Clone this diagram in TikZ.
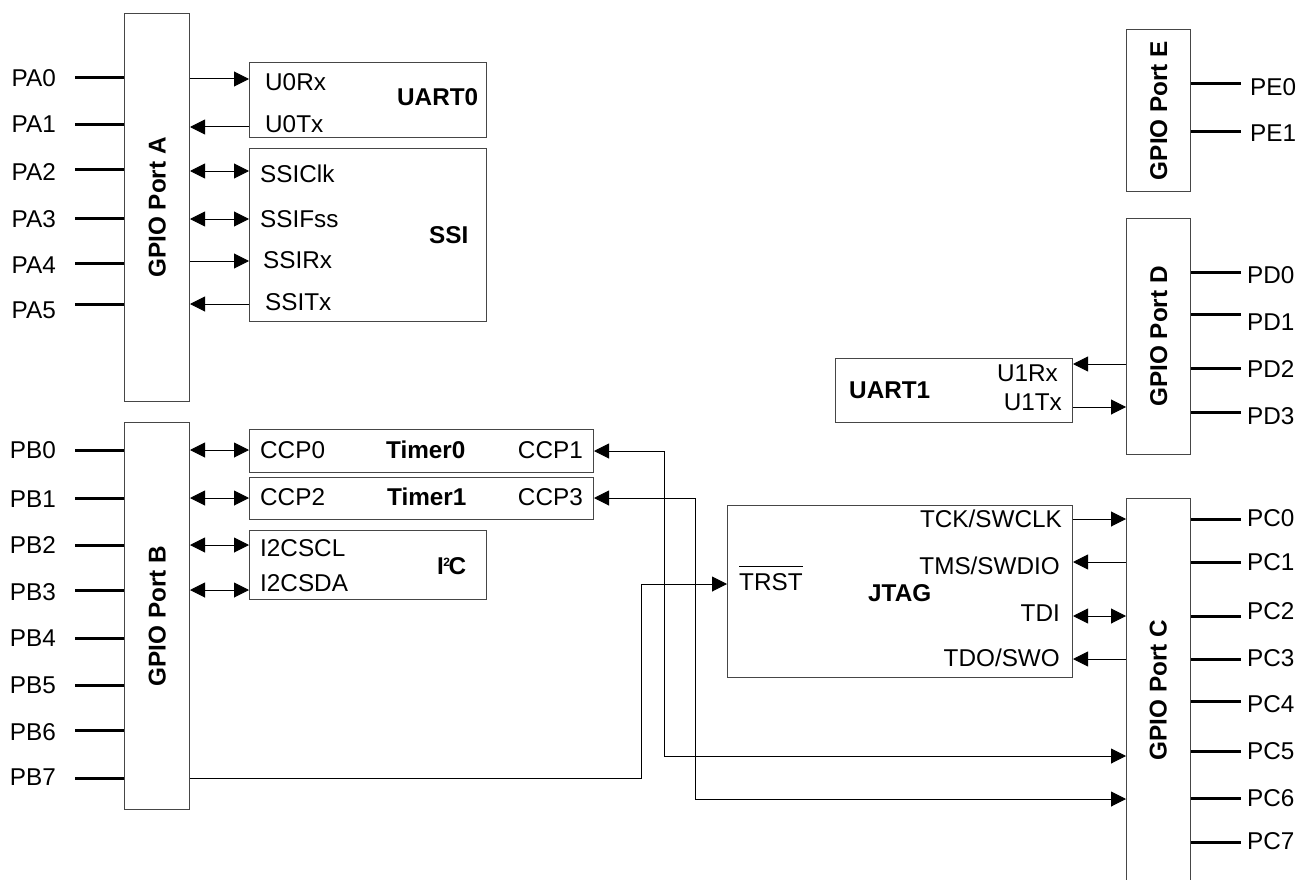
\documentclass[tikz,border=0pt]{standalone}
\usepackage{fontspec}
\setmainfont{Liberation Sans}
\usetikzlibrary{arrows.meta}
\definecolor{boxc}{RGB}{70,70,70}
\newcommand{\fs}{\fontsize{24.3}{29}\selectfont}
\tikzset{
  box/.style={draw=boxc, line width=1pt, inner sep=0pt, anchor=north west, fill=white},
  lbl/.style={inner sep=0pt, text height=17.4pt, text depth=0pt, font=\fs},
  blbl/.style={lbl, font=\fs\bfseries},
  pin/.style={line width=3pt, black},
  tip/.tip={Triangle[length=15pt,width=15pt]},
  arr/.style={line width=1pt, black, -tip},
  rarr/.style={line width=1pt, black, tip-},
  dbl/.style={line width=1pt, black, tip-tip}
}
\begin{document}
\begin{tikzpicture}[x=1pt,y=-1pt]
\useasboundingbox (0,0) rectangle (1306,880);
% ports
\node[box, minimum width=65pt, minimum height=388pt] (pa) at (124,13) {};
\node[box, minimum width=65pt, minimum height=387pt] (pb) at (124,422) {};
\node[box, minimum width=64pt, minimum height=162pt] (pe) at (1126,29) {};
\node[box, minimum width=64pt, minimum height=236pt] (pd) at (1126,218) {};
\node[box, minimum width=64pt, minimum height=384pt] (pc) at (1126,498) {};
\node[blbl, rotate=90] (pat) at (pa.center) {GPIO Port A};
\node[blbl, rotate=90] (pbt) at (pb.center) {GPIO Port B};
\node[blbl, rotate=90] (pet) at (pe.center) {GPIO Port E};
\node[blbl, rotate=90] (pdt) at (pd.center) {GPIO Port D};
\node[blbl, rotate=90] (pct) at (1158,690) {GPIO Port C};
% peripheral boxes
\node[box, minimum width=237pt, minimum height=75pt] (u0) at (249,62) {};
\node[box, minimum width=237pt, minimum height=173pt] (ssi) at (249,148) {};
\node[box, minimum width=344pt, minimum height=43pt] (t0) at (249,429) {};
\node[box, minimum width=344pt, minimum height=42pt] (t1) at (249,477) {};
\node[box, minimum width=237pt, minimum height=69pt] (i2c) at (249,530) {};
\node[box, minimum width=345pt, minimum height=172pt] (jtag) at (727,505) {};
\node[box, minimum width=237pt, minimum height=64pt] (u1) at (835,358) {};
% pins port A
\foreach \n/\py/\ly in {0/78/77.5,1/125/124,2/169/171.5,3/218/218.5,4/263/265,5/304/310}{
  \draw[pin] (pa.west |- 0,\py) -- ++(-49,0);
  \node[lbl, anchor=east] (pa\n) at (56,\ly) {PA\n};
}
% pins port B
\foreach \n/\py/\ly in {0/450/450,1/498/499,2/545/545,3/590/592,4/638/638,5/685/685,6/730/732,7/778/777}{
  \draw[pin] (pb.west |- 0,\py) -- ++(-49,0);
  \node[lbl, anchor=east] (pb\n) at (56,\ly) {PB\n};
}
% pins port C
\foreach \n/\py/\ly in {0/519/518,1/562/562,2/616/611,3/659/658,4/701/704,5/751/751,6/798/798,7/842/841}{
  \draw[pin] (pc.east |- 0,\py) -- ++(50,0);
  \node[lbl, anchor=west] (pc\n) at (1247,\ly) {PC\n};
}
% pins port D
\foreach \n/\py/\ly in {0/272/275,1/314/322,2/368/369,3/412/416}{
  \draw[pin] (pd.east |- 0,\py) -- ++(50,0);
  \node[lbl, anchor=west] (pd\n) at (1247,\ly) {PD\n};
}
% pins port E
\foreach \n/\py/\ly in {0/84/87,1/132/133}{
  \draw[pin] (pe.east |- 0,\py) -- ++(50,0);
  \node[lbl, anchor=west] (pe\n) at (1250,\ly) {PE\n};
}
% labels UART0 / SSI
\node[lbl, anchor=west] (u0rx) at (265,82) {U0Rx};
\node[lbl, anchor=west] (u0tx) at (265,124) {U0Tx};
\node[blbl, anchor=west] (u0t) at (397,97) {UART0};
\node[lbl, anchor=west] (sclk) at (260,174) {SSIClk};
\node[lbl, anchor=west] (sfss) at (260,219) {SSIFss};
\node[lbl, anchor=west] (srx) at (263,260) {SSIRx};
\node[lbl, anchor=west] (stx) at (265,302) {SSITx};
\node[blbl, anchor=west] (ssit) at (429,235) {SSI};
% timers / I2C
\node[lbl, anchor=west] (ccp0) at (260,450) {CCP0};
\node[blbl, anchor=west] (t0t) at (386,450) {Timer0};
\node[lbl, anchor=east] (ccp1) at (583,450) {CCP1};
\node[lbl, anchor=west] (ccp2) at (260,497) {CCP2};
\node[blbl, anchor=west] (t1t) at (387,497) {Timer1};
\node[lbl, anchor=east] (ccp3) at (583,497) {CCP3};
\node[lbl, anchor=west] (scl) at (260,548) {I2CSCL};
\node[lbl, anchor=west] (sda) at (260,583) {I2CSDA};
\node[blbl, anchor=west] (i2ct) at (437,566) {I\kern-0.5pt\raisebox{8pt}{\fontsize{12}{13}\selectfont 2}\kern-1.5pt C};
% JTAG
\node[lbl, anchor=west] (trst) at (739,582) {\makebox[0pt][l]{\rule[23.5pt]{64pt}{1pt}}TRST};
\node[blbl, anchor=west] (jt) at (868,593) {JTAG};
\node[lbl, anchor=east] (tck) at (1062,519) {TCK/SWCLK};
\node[lbl, anchor=east] (tms) at (1060,566) {TMS/SWDIO};
\node[lbl, anchor=east] (tdi) at (1060,613) {TDI};
\node[lbl, anchor=east] (tdo) at (1060,658) {TDO/SWO};
% UART1
\node[blbl, anchor=west] (u1t) at (849,390) {UART1};
\node[lbl, anchor=east] (u1rx) at (1058,373) {U1Rx};
\node[lbl, anchor=east] (u1tx) at (1062,402) {U1Tx};
% connectors port A
\draw[arr] (pa.east |- 0,79) -- (u0.west |- 0,79);
\draw[rarr] (pa.east |- 0,127) -- (u0.west |- 0,127);
\draw[dbl] (pa.east |- 0,171) -- (ssi.west |- 0,171);
\draw[dbl] (pa.east |- 0,219) -- (ssi.west |- 0,219);
\draw[arr] (pa.east |- 0,261) -- (ssi.west |- 0,261);
\draw[rarr] (pa.east |- 0,304) -- (ssi.west |- 0,304);
% connectors port B
\draw[dbl] (pb.east |- 0,450) -- (t0.west |- 0,450);
\draw[dbl] (pb.east |- 0,498) -- (t1.west |- 0,498);
\draw[dbl] (pb.east |- 0,545) -- (i2c.west |- 0,545);
\draw[dbl] (pb.east |- 0,590) -- (i2c.west |- 0,590);
\draw[arr] (pb.east |- 0,778) -- (641,778) -- (641,584) -- (jtag.west |- 0,584);
% timers to port C
\draw[dbl] (t0.east |- 0,451) -- (664,451) -- (664,756) -- (pc.west |- 0,756);
\draw[dbl] (t1.east |- 0,498) -- (695,498) -- (695,799) -- (pc.west |- 0,799);
% JTAG to port C
\draw[arr] (jtag.east |- 0,519) -- (pc.west |- 0,519);
\draw[rarr] (jtag.east |- 0,562) -- (pc.west |- 0,562);
\draw[dbl] (jtag.east |- 0,616) -- (pc.west |- 0,616);
\draw[rarr] (jtag.east |- 0,659) -- (pc.west |- 0,659);
% UART1 to port D
\draw[rarr] (u1.east |- 0,364) -- (pd.west |- 0,364);
\draw[arr] (u1.east |- 0,407) -- (pd.west |- 0,407);
\end{tikzpicture}
\end{document}
